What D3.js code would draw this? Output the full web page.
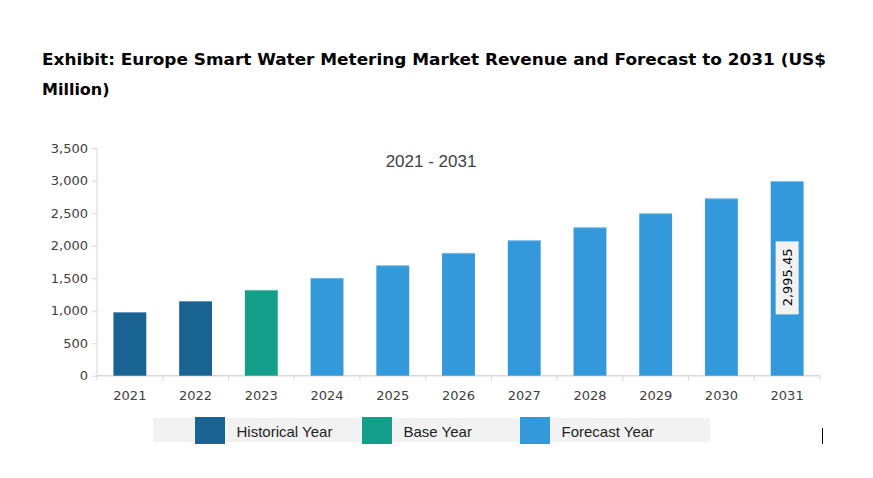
<!DOCTYPE html>
<html><head><meta charset="utf-8">
<script src="https://cdn.jsdelivr.net/npm/d3@7"></script>
<style>body{margin:0;background:#fff}svg{display:block}</style>
</head><body><svg id="c" width="873" height="478"></svg>
<script>
const years = ["2021","2022","2023","2024","2025","2026","2027","2028","2029","2030","2031"];
const revenue = [980, 1150, 1320, 1505, 1700, 1890, 2085, 2285, 2500, 2730, 2995.45];
const yearType = ["Historical Year","Historical Year","Base Year","Forecast Year","Forecast Year","Forecast Year","Forecast Year","Forecast Year","Forecast Year","Forecast Year","Forecast Year"];
const legendLabels = ["Historical Year","Base Year","Forecast Year"];
const legendColors = ["#1a6494","#139f89","#3399da"];
const yTicks = [0,500,1000,1500,2000,2500,3000,3500];
const titleLine1 = "Exhibit: Europe Smart Water Metering Market Revenue and Forecast to 2031 (US$";
const titleLine2 = "Million)";
const subtitle = "2021 - 2031";
const labelIndex = 10;

const svg = d3.select("#c");
const color = d3.scaleOrdinal().domain(legendLabels).range(legendColors);

svg.append("text").attr("x",42).attr("y",65).attr("font-family","DejaVu Sans").attr("font-weight","bold")
  .attr("font-size",16).attr("fill","#000").attr("textLength",784).attr("lengthAdjust","spacingAndGlyphs").text(titleLine1);
svg.append("text").attr("x",42).attr("y",95).attr("font-family","DejaVu Sans").attr("font-weight","bold")
  .attr("font-size",16).attr("fill","#000").text(titleLine2);

const x = d3.scaleBand().domain(years).range([97,820]).paddingInner(0.5).paddingOuter(0.25);
const y = d3.scaleLinear().domain([0,3500]).range([375.7,148.3]);

// axes
const yAxis = svg.append("g").attr("transform","translate(97,0)").call(d3.axisLeft(y).tickValues(yTicks).tickFormat(d3.format(",")).tickSize(5).tickPadding(4));
yAxis.select(".domain").attr("stroke","#d9d9d9").attr("d","M-5,"+y(3500)+"H0V"+y(0));
yAxis.selectAll(".tick line").attr("stroke","#d9d9d9");
yAxis.selectAll("text").attr("font-family","DejaVu Sans").attr("font-size",13).attr("fill","#404040");

const xb = d3.scaleBand().domain(years).range([97,820]);
const xg = svg.append("g").attr("transform","translate(0,"+y(0)+")");
xg.append("line").attr("x1",97).attr("x2",820).attr("y1",0).attr("y2",0).attr("stroke","#d9d9d9").attr("stroke-width",1.5);
xg.selectAll(".sep").data(years.concat(["end"])).enter().append("line")
  .attr("x1",(d,i)=>97+i*xb.bandwidth()).attr("x2",(d,i)=>97+i*xb.bandwidth())
  .attr("y1",0).attr("y2",5).attr("stroke","#d9d9d9");
xg.selectAll(".lbl").data(years).enter().append("text")
  .attr("x",d=>xb(d)+xb.bandwidth()/2).attr("y",24).attr("text-anchor","middle")
  .attr("font-family","DejaVu Sans").attr("font-size",13).attr("fill","#404040").text(d=>d);

svg.append("text").attr("x",431).attr("y",167).attr("text-anchor","middle").attr("font-family","Liberation Sans")
  .attr("font-size",17).attr("fill","#404040").text(subtitle);

// bars
svg.selectAll(".bar").data(years).enter().append("rect")
  .attr("x",d=>x(d)).attr("width",x.bandwidth())
  .attr("y",(d,i)=>y(revenue[i])).attr("height",(d,i)=>y(0)-y(revenue[i]))
  .attr("fill",(d,i)=>color(yearType[i]));
svg.selectAll(".bartop").data(years).enter().append("line")
  .attr("x1",d=>x(d)).attr("x2",d=>x(d)+x.bandwidth())
  .attr("y1",(d,i)=>y(revenue[i])+0.5).attr("y2",(d,i)=>y(revenue[i])+0.5)
  .attr("stroke","#ffffff").attr("stroke-opacity",0.35);

// data label
const lx = x(years[labelIndex]) + x.bandwidth()/2;
const ly = (y(revenue[labelIndex]) + y(0))/2 - 1;
svg.append("rect").attr("x",lx-11.5).attr("y",ly-36).attr("width",23).attr("height",73).attr("fill","#f2f2f2");
svg.append("text").attr("transform","translate("+(lx+5)+","+ly+") rotate(-90)").attr("text-anchor","middle")
  .attr("font-family","DejaVu Sans").attr("font-size",13).attr("fill","#000").text(d3.format(",.2f")(revenue[labelIndex]));

// legend
svg.append("rect").attr("x",153).attr("y",418).attr("width",557).attr("height",24).attr("fill","#f2f2f2");
const lgX = [195,362,520];
const lg = svg.selectAll(".lg").data(legendLabels).enter().append("g");
lg.append("rect").attr("x",(d,i)=>lgX[i]).attr("y",417).attr("width",30).attr("height",27).attr("fill",d=>color(d));
lg.append("text").attr("x",(d,i)=>lgX[i]+41.5).attr("y",437).attr("font-family","Liberation Sans").attr("font-size",15)
  .attr("fill","#222").text(d=>d);
svg.append("line").attr("x1",822.5).attr("x2",822.5).attr("y1",428).attr("y2",444).attr("stroke","#000");
</script></body></html>
